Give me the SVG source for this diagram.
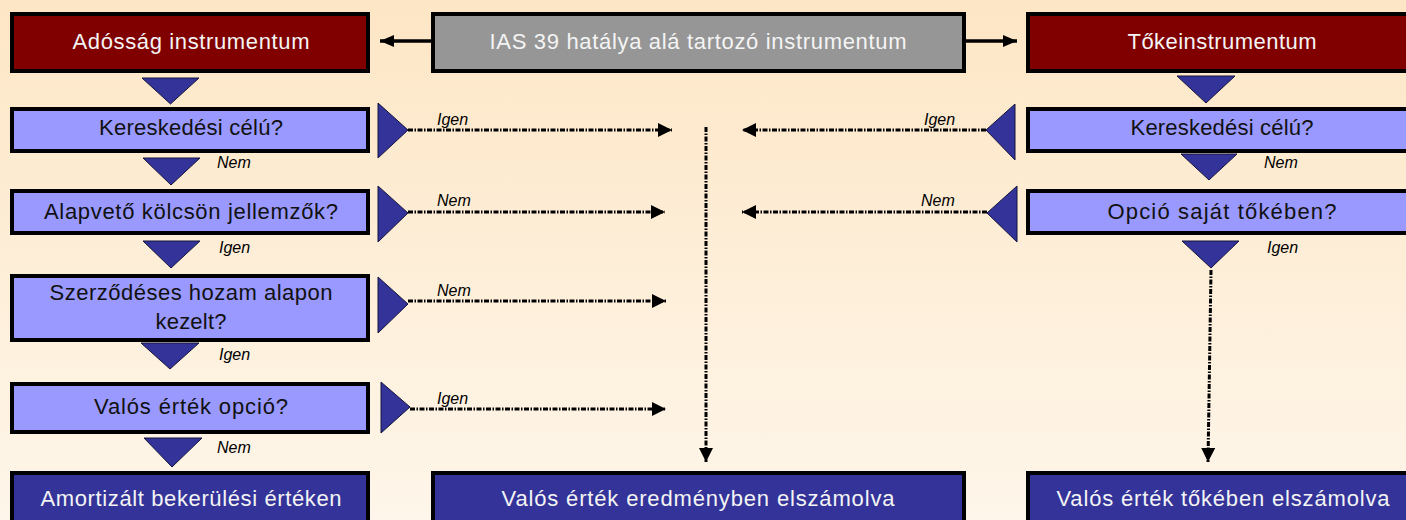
<svg xmlns="http://www.w3.org/2000/svg" width="1406" height="520" viewBox="0 0 1406 520">
<defs>
<linearGradient id="bg" x1="0" y1="0" x2="0" y2="1">
<stop offset="0" stop-color="#FDE6C5"/>
<stop offset="1" stop-color="#FEF6EA"/>
</linearGradient>
<marker id="ah" markerUnits="userSpaceOnUse" markerWidth="15" markerHeight="14" refX="14" refY="7" orient="auto">
<path d="M0,0 L14,7 L0,14 Z" fill="#000"/>
</marker>
<marker id="ahs" markerUnits="userSpaceOnUse" markerWidth="15" markerHeight="12" refX="14" refY="6" orient="auto">
<path d="M0,0 L14,6 L0,12 Z" fill="#000"/>
</marker>
</defs>
<style>
.box{stroke:#000;stroke-width:4}
.red{fill:#800000}
.gray{fill:#969696}
.lite{fill:#9999FF}
.dark{fill:#333399}
.t{font-family:"Liberation Sans",Arial,sans-serif;font-size:22px;text-anchor:middle}
.tw{fill:#F4F4F4}
.tb{fill:#111111}
.lbl{font-family:"Liberation Sans",Arial,sans-serif;font-size:16px;font-style:italic;fill:#000}
.tri{fill:#333399;stroke:#14143C;stroke-width:1}
.dash{fill:none;stroke:#000;stroke-width:3;stroke-dasharray:5 1.5 1.5 1.5}
.solid{fill:none;stroke:#000;stroke-width:3.5}
</style>
<rect x="0" y="0" width="1406" height="520" fill="url(#bg)"/>

<g id="n-adossag">
<rect class="box red" x="12" y="14" width="356" height="57"/>
<text class="t tw" x="191" y="49" textLength="237">Adósság instrumentum</text>
</g>
<g id="n-ias39">
<rect class="box gray" x="433" y="14" width="531" height="57"/>
<text class="t tw" x="698" y="49" textLength="417">IAS 39 hatálya alá tartozó instrumentum</text>
</g>
<g id="n-toke">
<rect class="box red" x="1028" y="14" width="392" height="57"/>
<text class="t tw" x="1222" y="49" textLength="189">Tőkeinstrumentum</text>
</g>

<g id="n-keresk-l">
<rect class="box lite" x="12" y="109" width="356" height="42"/>
<text class="t tb" x="191" y="135" textLength="184">Kereskedési célú?</text>
</g>
<g id="n-alapveto">
<rect class="box lite" x="12" y="191" width="356" height="42"/>
<text class="t tb" x="191" y="219" textLength="294">Alapvető kölcsön jellemzők?</text>
</g>
<g id="n-szerz">
<rect class="box lite" x="12" y="276" width="356" height="64"/>
<text class="t tb" x="191" y="300" textLength="283">Szerződéses hozam alapon</text>
<text class="t tb" x="191" y="329" textLength="71">kezelt?</text>
</g>
<g id="n-valos-opcio">
<rect class="box lite" x="12" y="384" width="356" height="48"/>
<text class="t tb" x="191" y="414" textLength="194">Valós érték opció?</text>
</g>
<g id="n-amort">
<rect class="box dark" x="12" y="473" width="356" height="52"/>
<text class="t tw" x="191" y="506" textLength="301">Amortizált bekerülési értéken</text>
</g>
<g id="n-valos-eredm">
<rect class="box dark" x="433" y="473" width="531" height="52"/>
<text class="t tw" x="698" y="506" textLength="393">Valós érték eredményben elszámolva</text>
</g>
<g id="n-valos-toke">
<rect class="box dark" x="1028" y="473" width="392" height="52"/>
<text class="t tw" x="1223" y="506" textLength="333">Valós érték tőkében elszámolva</text>
</g>

<g id="n-keresk-r">
<rect class="box lite" x="1028" y="109" width="392" height="42"/>
<text class="t tb" x="1222" y="135" textLength="183">Kereskedési célú?</text>
</g>
<g id="n-opcio">
<rect class="box lite" x="1028" y="191" width="392" height="42"/>
<text class="t tb" x="1222" y="219" textLength="229">Opció saját tőkében?</text>
</g>

<g id="connectors">
<line class="solid" x1="431" y1="41" x2="380" y2="41" marker-end="url(#ahs)"/>
<line class="solid" x1="966" y1="41" x2="1017" y2="41" marker-end="url(#ahs)"/>

<polygon class="tri" points="142,78 199,78 170.5,104"/>
<polygon class="tri" points="143,158 200,158 171,185"/>
<polygon class="tri" points="143,241 200,241 171,268"/>
<polygon class="tri" points="141,343 199,343 170,369"/>
<polygon class="tri" points="144,438 202,438 172,467"/>

<polygon class="tri" points="1177,76 1235,76 1206,103"/>
<polygon class="tri" points="1181,154 1237,154 1209,180"/>
<polygon class="tri" points="1182,241 1239,241 1211,268"/>

<polygon class="tri" points="378,103 378,158 408,130"/>
<polygon class="tri" points="378,186 378,242 408,213"/>
<polygon class="tri" points="378,277 378,333 408,304"/>
<polygon class="tri" points="381,382 381,433 410,407"/>

<polygon class="tri" points="1015,104 1015,160 986,130"/>
<polygon class="tri" points="1017,186 1017,242 987,213"/>

<line class="dash" x1="408" y1="130" x2="672" y2="130" marker-end="url(#ah)"/>
<line class="dash" x1="986" y1="130" x2="742" y2="130" marker-end="url(#ah)"/>
<line class="dash" x1="408" y1="212" x2="665" y2="212" marker-end="url(#ah)"/>
<line class="dash" x1="987" y1="212" x2="742" y2="212" marker-end="url(#ah)"/>
<line class="dash" x1="408" y1="301" x2="666" y2="301" marker-end="url(#ah)"/>
<line class="dash" x1="410" y1="409" x2="666" y2="409" marker-end="url(#ah)"/>
<line class="dash" x1="706" y1="127" x2="706" y2="462" marker-end="url(#ah)"/>
<line class="dash" x1="1211" y1="270" x2="1208" y2="462" marker-end="url(#ah)"/>

<text class="lbl" x="217" y="168">Nem</text>
<text class="lbl" x="219" y="253">Igen</text>
<text class="lbl" x="219" y="360">Igen</text>
<text class="lbl" x="217" y="453">Nem</text>
<text class="lbl" x="1264" y="168">Nem</text>
<text class="lbl" x="1267" y="253">Igen</text>
<text class="lbl" x="437" y="125">Igen</text>
<text class="lbl" x="924" y="125">Igen</text>
<text class="lbl" x="437" y="206">Nem</text>
<text class="lbl" x="921" y="206">Nem</text>
<text class="lbl" x="437" y="296">Nem</text>
<text class="lbl" x="437" y="404">Igen</text>
</g>
</svg>
